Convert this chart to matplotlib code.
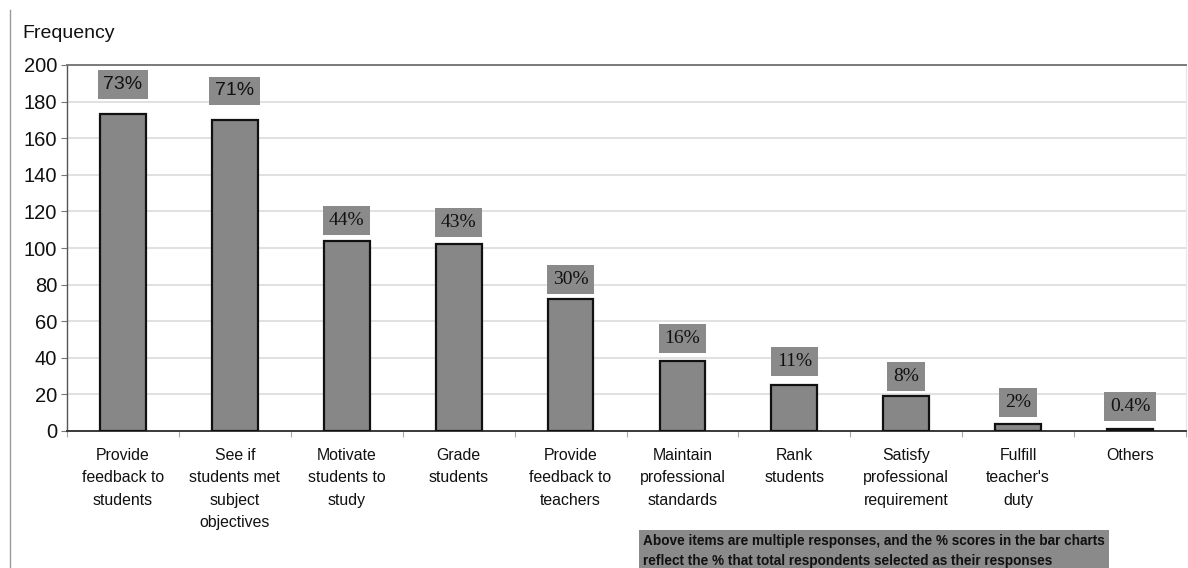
import matplotlib

matplotlib.use("Agg")
import matplotlib.pyplot as plt
from matplotlib.lines import Line2D
import numpy as np

CATEGORIES = [
    "Provide\nfeedback to\nstudents",
    "See if\nstudents met\nsubject\nobjectives",
    "Motivate\nstudents to\nstudy",
    "Grade\nstudents",
    "Provide\nfeedback to\nteachers",
    "Maintain\nprofessional\nstandards",
    "Rank\nstudents",
    "Satisfy\nprofessional\nrequirement",
    "Fulfill\nteacher's\nduty",
    "Others",
]
FREQUENCY = [173, 170, 104, 102, 72, 38, 25, 19, 4, 1]
PERCENT_LABELS = ["73%", "71%", "44%", "43%", "30%", "16%", "11%", "8%", "2%", "0.4%"]
Y_TICKS = [0, 20, 40, 60, 80, 100, 120, 140, 160, 180, 200]

NOTE = ("Above items are multiple responses, and the % scores in the bar charts\n"
        "reflect the % that total respondents selected as their responses")

BAR_GREY = "#878787"
BOX_GREY = "#8a8a8a"
GRID = "#dcdcdc"
INK = "#111111"

# vertical gap (px) between a bar top and the centre of its % box
LABEL_GAP = [30, 29, 20, 22, 20, 23, 24, 20, 21, 23]
LABEL_FONT = ["Liberation Sans", "Liberation Sans"] + ["Liberation Serif"] * 8

fig = plt.figure(figsize=(11.88, 5.68), dpi=100)
fig.patch.set_facecolor("white")
ax = fig.add_axes([67 / 1188, 1 - 431 / 568, (1186 - 67) / 1188, (431 - 65) / 568])

x = np.arange(len(CATEGORIES))
ax.bar(x, FREQUENCY, width=0.41, color=BAR_GREY, edgecolor=INK, linewidth=1.6, zorder=3)

ax.set_xlim(-0.5, len(CATEGORIES) - 0.5)
ax.set_ylim(0, 200)
ax.set_yticks(Y_TICKS)
ax.set_yticklabels([str(t) for t in Y_TICKS], fontsize=14.5, family="Liberation Sans", color=INK)
ax.tick_params(axis="y", length=4, width=0.8, color="#777777", pad=3)

ax.set_xticks(x)
ax.set_xticklabels(CATEGORIES, fontsize=11.4, family="Liberation Sans", color=INK, linespacing=1.62, va="top")
ax.tick_params(axis="x", which="major", length=0, pad=12)
ax.set_xticks(np.arange(-0.5, len(CATEGORIES), 1), minor=True)
ax.tick_params(axis="x", which="minor", length=4, width=0.8, color="#aaaaaa")

ax.grid(axis="y", color=GRID, linewidth=1.2, zorder=0)
ax.spines["top"].set_color("#7a7a7a")
ax.spines["top"].set_linewidth(1.4)
ax.spines["right"].set_color("#e6e6e6")
ax.spines["left"].set_color("#555555")
ax.spines["left"].set_linewidth(1.0)
ax.spines["bottom"].set_color("#3a3a3a")
ax.spines["bottom"].set_linewidth(1.4)

for xi, v, lab, gap, fam in zip(x, FREQUENCY, PERCENT_LABELS, LABEL_GAP, LABEL_FONT):
    ax.annotate(
        lab,
        xy=(xi, v),
        xytext=(0, gap * 0.72),
        textcoords="offset points",
        ha="center",
        va="center",
        fontsize=14,
        family=fam,
        color=INK,
        bbox=dict(boxstyle="square,pad=0.3", facecolor=BOX_GREY, edgecolor="none"),
        zorder=4,
    )

fig.text(22 / 1188, 1 - 33 / 568, "Frequency", fontsize=14, family="Liberation Sans",
         color=INK, ha="left", va="center")

fig.text(643 / 1188, 1 - 551 / 568, NOTE, fontsize=9.8, family="Liberation Sans",
         fontweight="bold", color=INK, ha="left", va="center", linespacing=1.55,
         bbox=dict(boxstyle="square,pad=0.3", facecolor=BOX_GREY, edgecolor="none"))

# thin frame line along the left edge of the panel
fig.add_artist(Line2D([9.5 / 1188, 9.5 / 1188], [0, 1 - 10 / 568], transform=fig.transFigure,
                      color="#9a9a9a", linewidth=1.0))

plt.savefig("out.png", dpi=100, facecolor="white")
plt.close(fig)
